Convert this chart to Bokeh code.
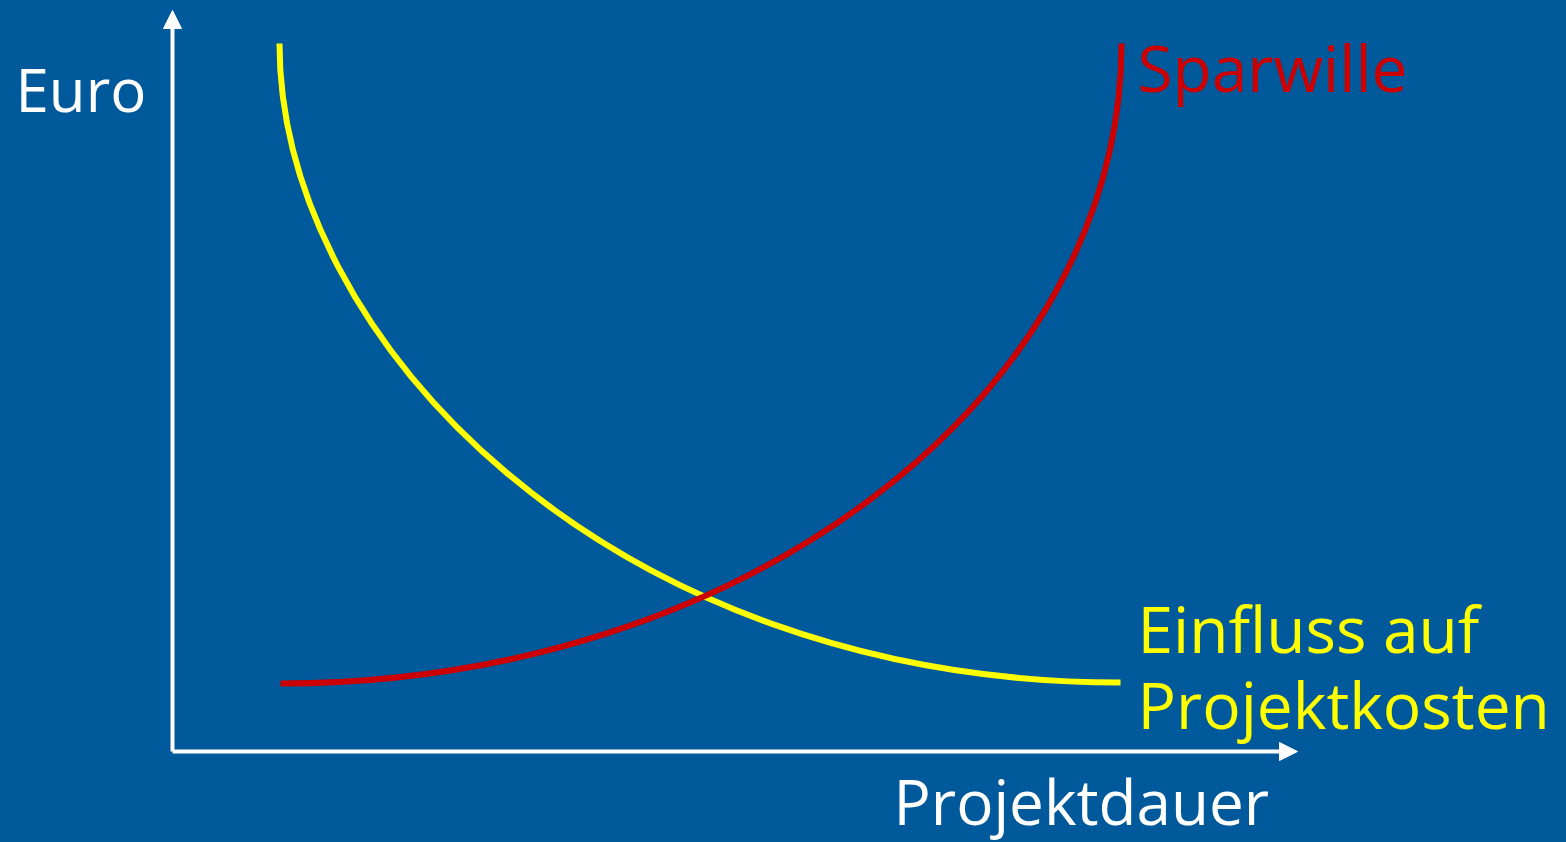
from bokeh.plotting import figure
from bokeh.models import Range1d, Arrow, NormalHead, Label
from bokeh.embed import file_html
from bokeh.resources import INLINE

# Curves read off the picture as cubic Bezier paths (x = Projektdauer, y = Euro, arbitrary units)
# order: start point, first control point, second control point, end point
einfluss_x = [1.07, 1.07, 4.35, 9.48]
einfluss_y = [7.08, 4.13, 0.69, 0.69]

spar_x = [1.08, 5.72, 9.49, 9.49]
spar_y = [0.68, 0.68, 3.55, 7.08]

labels = {"y": "Euro", "x": "Projektdauer", "spar": "Sparwille", "einfluss1": "Einfluss auf", "einfluss2": "Projektkosten"}

BG = "#00599A"
YEL = "#FFFF00"
RED = "#CC0000"
FONT = "Open Sans"

p = figure(width=1566, height=842, output_backend="svg", toolbar_location=None,
           x_range=Range1d(-1.72, 13.94), y_range=Range1d(-0.91, 7.51), min_border=0)
p.axis.visible = False
p.grid.visible = False
p.background_fill_color = BG
p.border_fill_color = BG
p.outline_line_color = None

# axes with arrows
p.add_layout(Arrow(end=NormalHead(size=18, fill_color="white", line_color="white"),
                   x_start=0, y_start=0, x_end=11.25, y_end=0, line_color="white", line_width=4))
p.add_layout(Arrow(end=NormalHead(size=18, fill_color="white", line_color="white"),
                   x_start=0, y_start=0, x_end=0, y_end=7.41, line_color="white", line_width=4))

p.bezier(x0=[einfluss_x[0]], y0=[einfluss_y[0]], cx0=[einfluss_x[1]], cy0=[einfluss_y[1]],
         cx1=[einfluss_x[2]], cy1=[einfluss_y[2]], x1=[einfluss_x[3]], y1=[einfluss_y[3]],
         line_color=YEL, line_width=6)
p.bezier(x0=[spar_x[0]], y0=[spar_y[0]], cx0=[spar_x[1]], cy0=[spar_y[1]],
         cx1=[spar_x[2]], cy1=[spar_y[2]], x1=[spar_x[3]], y1=[spar_y[3]],
         line_color=RED, line_width=6)

def lab(x, y, t, c, fs):
    p.add_layout(Label(x=x, y=y, text=t, text_color=c, text_font=FONT, text_font_size=fs,
                       text_baseline="alphabetic", text_align="left"))

lab(-1.57, 6.63, labels["y"], "white", "60px")
lab(7.21, -0.49, labels["x"], "white", "62px")
lab(9.65, 6.84, labels["spar"], RED, "64px")
lab(9.65, 1.23, labels["einfluss1"], YEL, "64px")
lab(9.65, 0.47, labels["einfluss2"], YEL, "64px")

template = """
{% block postamble %}
<style>html, body { margin: 0; padding: 0; background: #00599A; }</style>
{% endblock %}
"""

open("out.html", "w").write(file_html(p, INLINE, template=template))
